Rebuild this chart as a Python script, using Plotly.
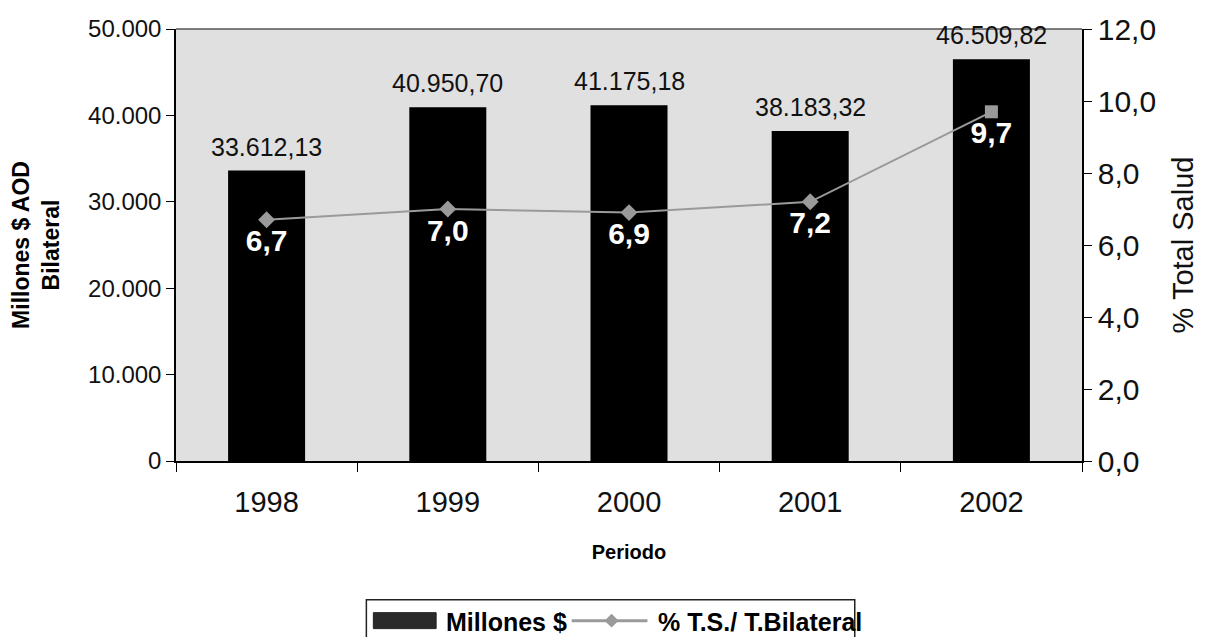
import plotly.graph_objects as go

# Data
periodos = ["1998", "1999", "2000", "2001", "2002"]
millones = [33612.13, 40950.70, 41175.18, 38183.32, 46509.82]
pct_salud = [6.7, 7.0, 6.9, 7.2, 9.7]
marker_symbols = ["diamond", "diamond", "diamond", "diamond", "square"]
legend_labels = ["Millones $", "% T.S./ T.Bilateral"]

FONT = "Liberation Sans, Arial, sans-serif"
LINE_GRAY = "#9a9a9a"


def es_number(v, decimals):
    """Format with '.' as thousands separator and ',' as decimal mark."""
    s = f"{v:,.{decimals}f}"
    return s.replace(",", "#").replace(".", ",").replace("#", ".")


fig = go.Figure()

fig.add_trace(go.Bar(
    x=periodos, y=millones, name=legend_labels[0],
    marker=dict(color="#000000", line=dict(width=0)),
    yaxis="y", showlegend=False,
))

fig.add_trace(go.Scatter(
    x=periodos, y=pct_salud, name=legend_labels[1],
    mode="lines+markers+text",
    line=dict(color=LINE_GRAY, width=2),
    marker=dict(symbol=marker_symbols, size=13, color=LINE_GRAY),
    texttemplate="%{y:.1f}", textposition="bottom center",
    textfont=dict(family=FONT, size=30, color="#ffffff", weight="bold"),
    yaxis="y2", cliponaxis=False, showlegend=False,
))

# Plot area in pixels: x 176..1085, y 28..461
PX0, PX1, PY0, PY1 = 176, 1085, 28, 461
def px(x):
    return (x - PX0) / (PX1 - PX0)
def py(y):
    return (PY1 - y) / (PY1 - PY0)

# Diamond glyph for the line legend swatch
dcx, dcy, dh = 613, 621, 7
diamond_path = "M {:.5f} {:.5f} L {:.5f} {:.5f} L {:.5f} {:.5f} L {:.5f} {:.5f} Z".format(
    px(dcx - dh), py(dcy), px(dcx), py(dcy - dh), px(dcx + dh), py(dcy), px(dcx), py(dcy + dh))

shapes = [
    # top frame line of the plot area
    dict(type="line", xref="paper", yref="paper", x0=0, x1=1, y0=1, y1=1,
         line=dict(color="#555555", width=1.5)),
    # legend box
    dict(type="rect", xref="paper", yref="paper", x0=px(367), x1=px(857), y0=py(600), y1=py(660),
         line=dict(color="#222222", width=1.5), fillcolor="rgba(0,0,0,0)", layer="above"),
    # legend swatch: bars
    dict(type="rect", xref="paper", yref="paper", x0=px(374), x1=px(437), y0=py(613), y1=py(629),
         line=dict(color="#222222", width=1), fillcolor="#2a2a2a", layer="above"),
    # legend swatch: line + diamond
    dict(type="line", xref="paper", yref="paper", x0=px(573), x1=px(649), y0=py(621), y1=py(621),
         line=dict(color=LINE_GRAY, width=3), layer="above"),
    dict(type="path", xref="paper", yref="paper", path=diamond_path,
         line=dict(color=LINE_GRAY, width=0), fillcolor=LINE_GRAY, layer="above"),
]

annotations = [
    dict(text="<b>%s</b>" % legend_labels[0], xref="paper", yref="paper", x=px(445), y=py(622),
         xanchor="left", yanchor="middle", showarrow=False,
         font=dict(family=FONT, size=25, color="#000000")),
    dict(text="<b>%s</b>" % legend_labels[1], xref="paper", yref="paper", x=px(658), y=py(622),
         xanchor="left", yanchor="middle", showarrow=False,
         font=dict(family=FONT, size=25, color="#000000")),
]

# Value labels above the bars (category axis positions given by index)
for i, val in enumerate(millones):
    annotations.append(dict(
        text=es_number(val, 2), x=i, y=val, xref="x", yref="y",
        xanchor="center", yanchor="bottom", yshift=8, showarrow=False,
        font=dict(family=FONT, size=25, color="#111111"),
    ))

fig.update_layout(
    width=1206, height=637,
    margin=dict(l=PX0, r=1206 - PX1, t=PY0, b=637 - PY1),
    paper_bgcolor="#ffffff", plot_bgcolor="#e0e0e0",
    separators=",.",
    font=dict(family=FONT, color="#111111"),
    bargap=0.575,
    showlegend=False,
    xaxis=dict(
        type="category", categoryorder="array", categoryarray=periodos,
        range=[-0.5, len(periodos) - 0.5], autorange=False,
        tickson="boundaries", ticks="outside", ticklen=9,
        tickcolor="#000000", showline=True, linecolor="#000000", linewidth=1.5,
        showgrid=False, ticklabelstandoff=14, tickangle=0,
        tickfont=dict(family=FONT, size=29, color="#111111"),
        title=dict(text="Periodo", font=dict(family=FONT, size=20, weight="bold", color="#000000"), standoff=28),
    ),
    yaxis=dict(
        range=[0, 50000], dtick=10000, tickformat=",d",
        ticks="outside", ticklen=8, tickcolor="#000000",
        showline=True, linecolor="#000000", linewidth=1.5, showgrid=False, zeroline=False,
        tickfont=dict(family=FONT, size=24, color="#111111"),
        title=dict(text="Millones $ AOD<br>Bilateral", font=dict(family=FONT, size=23, weight="bold", color="#000000"), standoff=22),
    ),
    yaxis2=dict(
        range=[0, 12], dtick=2, tickformat=".1f", overlaying="y", side="right",
        ticks="outside", ticklen=8, tickcolor="#000000",
        showline=True, linecolor="#000000", linewidth=1.5, showgrid=False, zeroline=False,
        tickfont=dict(family=FONT, size=30, color="#111111"),
        title=dict(text="% Total Salud", font=dict(family=FONT, size=29, color="#111111"), standoff=18),
    ),
    shapes=shapes,
    annotations=annotations,
)

fig.write_html("out.html")
